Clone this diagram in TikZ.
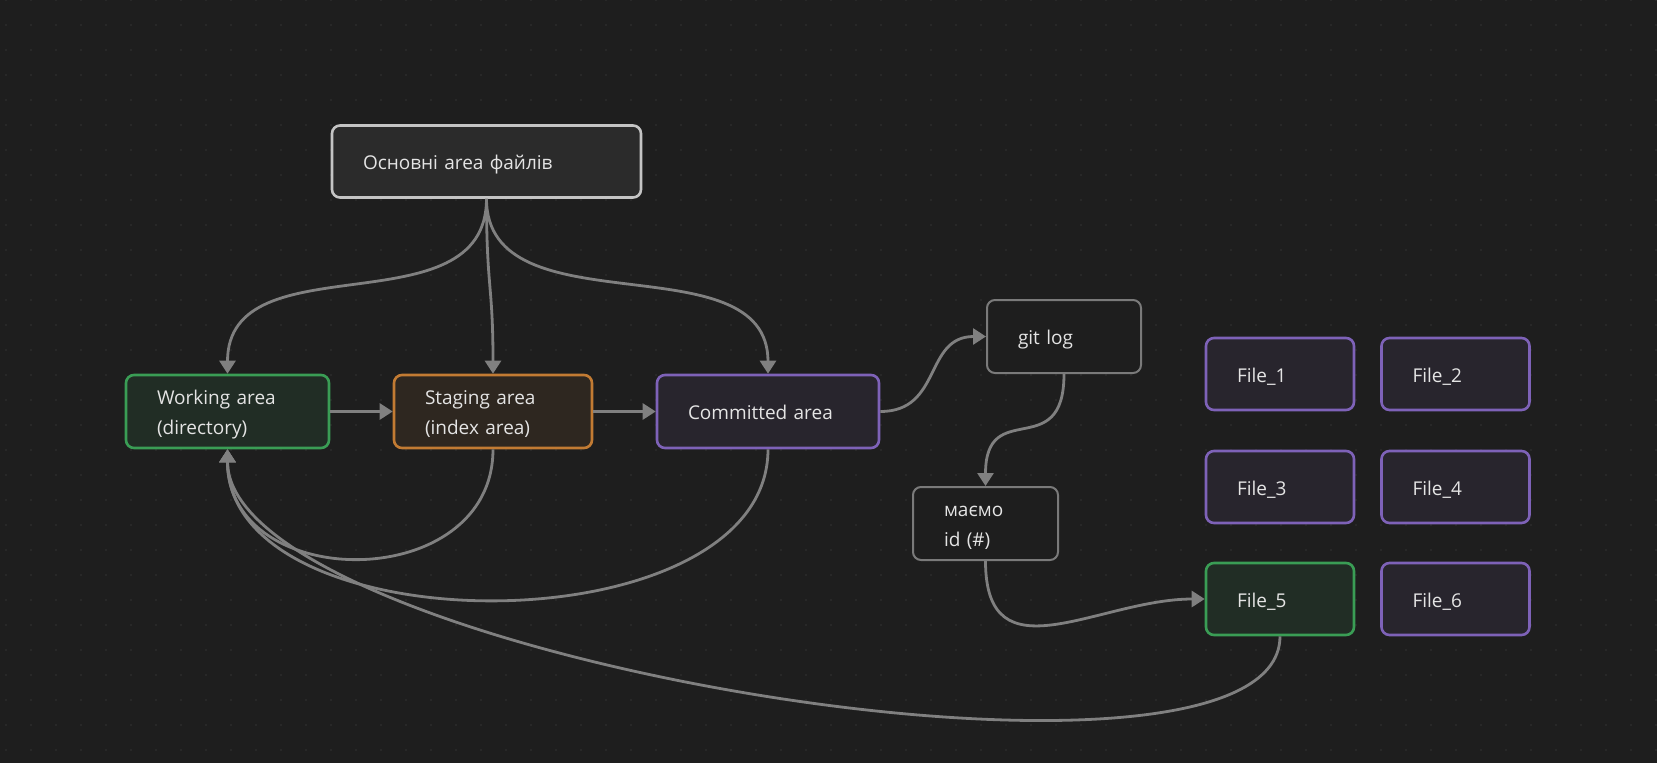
\documentclass[tikz,border=0pt]{standalone}
\usepackage{fontspec}
\setmainfont{Open Sans}
\usetikzlibrary{arrows.meta}
\definecolor{cvbg}{HTML}{1E1E1E}
\definecolor{cvdot}{HTML}{2C2C2C}
\definecolor{cvedge}{HTML}{808080}
\definecolor{cvtext}{HTML}{E4E4E4}
\definecolor{cvgrey}{HTML}{C4C4C4}
\definecolor{cvgreen}{HTML}{3A9D55}
\definecolor{cvorange}{HTML}{C27B33}
\definecolor{cvpurple}{HTML}{7E62B8}
\definecolor{cvplain}{HTML}{7A7A7A}

\begin{document}
\begin{tikzpicture}[x=1pt, y=-1pt,
    every node/.style={font=\fontsize{19}{30}\selectfont, text=cvtext},
    card/.style={draw, rounded corners=8pt, line width=2.6pt, inner xsep=31pt, inner ysep=0pt, align=left,
      text height=16pt, text depth=0pt, minimum height=72pt},
    twoline/.style={text depth=30pt, minimum height=73pt},
    topcard/.style={card, draw=cvgrey, fill=cvgrey!8!cvbg},
    greencard/.style={card, draw=cvgreen, fill=cvgreen!12!cvbg},
    orangecard/.style={card, draw=cvorange, fill=cvorange!10!cvbg},
    purplecard/.style={card, draw=cvpurple, fill=cvpurple!10!cvbg},
    plaincard/.style={card, draw=cvplain, fill=cvbg, line width=2pt},
    link/.style={draw=cvedge, line width=2.8pt, -{Triangle[length=13pt,width=16pt]}}]
      \useasboundingbox (0,0) rectangle (1657,763);
      % canvas with dot grid
      \fill[cvbg] (0,0) rectangle (1657,763);
      \foreach \x in {6,31,...,1656}
        \foreach \y in {0,25,...,763}
          \fill[cvdot] (\x,\y) circle (1.1pt);

      % main areas
      \node[topcard, text width=247pt] (top) at (486.5,161.5) {Основні area файлів};
      \node[greencard, twoline, text width=141pt] (work) at (227.5,411.5) {Working area\\(directory)};
      \node[orangecard, twoline, text width=136pt] (stage) at (493,411.5) {Staging area\\(index area)};
      \node[purplecard, text width=160pt, minimum height=73pt] (comm) at (768,411.5) {Committed area};
      \node[plaincard, text width=92pt, minimum height=73pt] (gitlog) at (1064,336.5) {git log};
      \node[plaincard, twoline, text width=83pt] (maemo) at (985.5,523.5) {маємо\\id (\#)};

      % files
      \node[purplecard, text width=86pt] (f1) at (1280,374) {File\_1};
      \node[purplecard, text width=86pt] (f2) at (1455.5,374) {File\_2};
      \node[purplecard, text width=86pt] (f3) at (1280,487) {File\_3};
      \node[purplecard, text width=86pt] (f4) at (1455.5,487) {File\_4};
      \node[greencard, text width=86pt] (f5) at (1280,599) {File\_5};
      \node[purplecard, text width=86pt] (f6) at (1455.5,599) {File\_6};

      % connectors
      \draw[link] (top.south) .. controls +(0,133) and +(0,-135) .. (work.north);
      \draw[link] (top.south) .. controls +(0,90) and +(0,-90) .. (stage.north);
      \draw[link] (top.south) .. controls +(0,133) and +(0,-135) .. (comm.north);
      \draw[link] (work) -- (stage);
      \draw[link] (stage) -- (comm);
      \draw[link] (comm.east) .. controls +(62,0) and +(-62,0) .. (gitlog.west);
      \draw[link] (gitlog.south) .. controls +(0,90) and +(0,-90) .. (maemo.north);
      \draw[link] (maemo.south) .. controls +(0,119) and +(-106,0) .. (f5.west);
      \draw[link] (stage.south) .. controls +(0,145) and +(0,145) .. (work.south);
      \draw[link] (comm.south) .. controls +(0,200) and +(0,200) .. (work.south);
      \draw[link] (f5.south) .. controls +(0,193) and +(0,207) .. (work.south);
    \end{tikzpicture}
\end{document}
